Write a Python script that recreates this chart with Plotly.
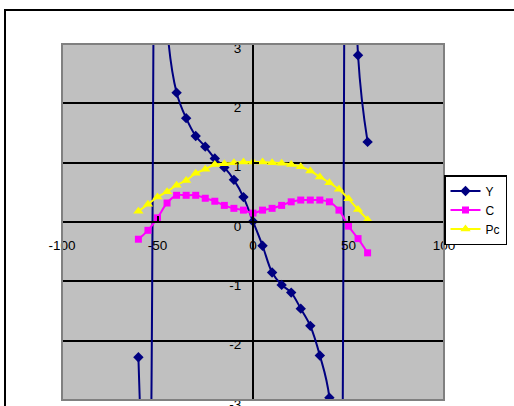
import plotly.graph_objects as go

x_vals = [-60, -55, -50, -45, -40, -35, -30, -25, -20, -15, -10, -5, 0,
          5, 10, 15, 20, 25, 30, 35, 40, 45, 50, 55, 60]
y_vals = [-2.28, -6.0, 12.0, 3.3, 2.18, 1.75, 1.45, 1.27, 1.07, 0.92, 0.71, 0.42, 0.01,
          -0.40, -0.85, -1.06, -1.19, -1.46, -1.75, -2.25, -2.96, -8.5, 16.5, 2.81, 1.35]
c_vals = [-0.29, -0.14, 0.07, 0.32, 0.45, 0.45, 0.45, 0.40, 0.35, 0.28, 0.23, 0.20, 0.15,
          0.20, 0.23, 0.28, 0.34, 0.37, 0.37, 0.37, 0.34, 0.20, -0.07, -0.28, -0.52]
pc_vals = [0.18, 0.30, 0.42, 0.51, 0.62, 0.70, 0.82, 0.89, 0.97, 0.98, 1.00, 1.01, 1.01,
           1.01, 1.00, 0.99, 0.97, 0.93, 0.86, 0.76, 0.66, 0.55, 0.39, 0.21, 0.04]
x_ticks = [-100, -50, 0, 50, 100]
y_ticks = [-3, -2, -1, 0, 1, 2, 3]

FONT = "Liberation Sans, Arial, sans-serif"

fig = go.Figure()
fig.add_trace(go.Scatter(x=x_vals, y=y_vals, name="Y", mode="lines+markers",
                         line=dict(color="#000080", width=2, shape="spline"),
                         marker=dict(symbol="diamond", size=8, color="#000080")))
fig.add_trace(go.Scatter(x=x_vals, y=c_vals, name="C", mode="lines+markers",
                         line=dict(color="#FF00FF", width=2, shape="spline"),
                         marker=dict(symbol="square", size=7, color="#FF00FF")))
fig.add_trace(go.Scatter(x=x_vals, y=pc_vals, name="Pc", mode="lines+markers",
                         line=dict(color="#FFFF00", width=2, shape="spline"),
                         marker=dict(symbol="triangle-up", size=9, color="#FFFF00")))

fig.update_layout(
    width=514, height=406,
    margin=dict(l=62, r=70, t=44, b=6, autoexpand=False),
    paper_bgcolor="white",
    plot_bgcolor="#C0C0C0",
    font=dict(family=FONT, size=13.5, color="black"),
    showlegend=True,
    legend=dict(x=1.0, xanchor="left", y=0.632, yanchor="top",
                bgcolor="white", bordercolor="black", borderwidth=1.5,
                font=dict(family=FONT, size=12, color="black"),
                tracegroupgap=0),
    xaxis=dict(range=[-100, 100], anchor="free", position=0.5, automargin=False,
               showline=True, linecolor="black", linewidth=2,
               ticks="inside", ticklen=5, tickwidth=2, tickcolor="black",
               tickvals=x_ticks, ticktext=[str(v) for v in x_ticks],
               ticklabelstandoff=11, ticklabeloverflow="allow",
               showgrid=False, zeroline=False),
    yaxis=dict(range=[-3, 3], anchor="free", position=0.5, automargin=False,
               showline=True, linecolor="black", linewidth=2,
               ticks="inside", ticklen=5, tickwidth=2, tickcolor="black",
               tickvals=y_ticks, ticktext=[str(v) for v in y_ticks],
               ticklabelstandoff=8, ticklabelshift=4, ticklabeloverflow="allow",
               showgrid=True, gridcolor="black", gridwidth=2,
               zeroline=False),
    shapes=[
        dict(type="rect", xref="paper", yref="paper", x0=0, x1=1, y0=0, y1=1,
             line=dict(color="#808080", width=2), layer="above"),
        dict(type="rect", xref="paper", yref="paper",
             x0=(5 - 62) / 382, x1=2.0, y0=-0.5, y1=(400 - 10) / 356,
             line=dict(color="black", width=2), layer="above"),
    ],
)

fig.write_html("out.html")
